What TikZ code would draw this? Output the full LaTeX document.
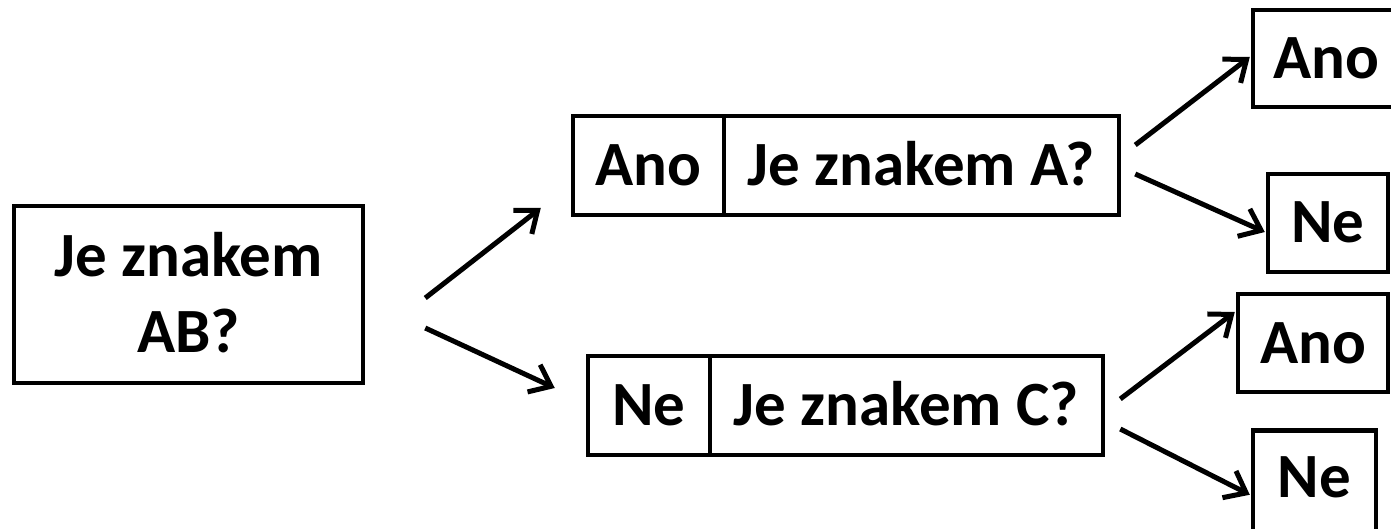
\documentclass[tikz,border=0pt]{standalone}
\usepackage{fontspec}
\setmainfont{Carlito}
\usetikzlibrary{arrows.meta}
\tikzset{
  box/.style={draw, line width=4.5pt, inner sep=0pt, text height=40pt, text depth=0pt,
    font=\fontsize{63}{76}\selectfont\bfseries, anchor=center},
  arr/.style={line width=5pt, -{Straight Barb[length=19pt,width=30pt,line width=5pt]}}
}
\begin{document}
\begin{tikzpicture}[x=1pt,y=-1pt]
\useasboundingbox (0,0) rectangle (1391,529);
% left box
\node[box, align=center, minimum width=349pt, minimum height=177pt, text height=116pt, text depth=0pt] (b1) at (188.5,294.5) {Je znakem\\AB?};
% middle boxes
\node[box, minimum width=151pt, minimum height=99pt] (b2L) at (648.5,165.5) {Ano};
\node[box, minimum width=395pt, minimum height=99pt] (b2R) at (921.5,165.5) {Je znakem A?};
\node[box, minimum width=122pt, minimum height=99pt] (b3L) at (649,405.5) {Ne};
\node[box, minimum width=393pt, minimum height=99pt] (b3R) at (906.5,405.5) {Je znakem C?};
% right boxes
\node[box, minimum width=147pt, minimum height=97pt] (r1) at (1326.5,58.5) {Ano};
\node[box, minimum width=120pt, minimum height=98pt] (r2) at (1328,223) {Ne};
\node[box, minimum width=150pt, minimum height=98pt] (r3) at (1313,343) {Ano};
\node[box, anchor=north, minimum width=123pt, inner ysep=27pt, text depth=15pt] (r4) at (1314.5,428) {Ne};
% arrow end points
\coordinate (a1s) at ([shift={(60,3.5)}]b1.east);
\coordinate (a1e) at ([shift={(-30,42.5)}]b2L.west);
\coordinate (a2s) at ([shift={(60,33.5)}]b1.east);
\coordinate (a2e) at ([shift={(-31,-17.5)}]b3L.west);
\coordinate (a3s) at ([shift={(14,-20.5)}]b2R.east);
\coordinate (a3e) at ([shift={(-1,-1.5)}]r1.west);
\coordinate (a4s) at ([shift={(14,8.5)}]b2R.east);
\coordinate (a4e) at ([shift={(-1,9)}]r2.west);
\coordinate (a5s) at ([shift={(15,-6.5)}]b3R.east);
\coordinate (a5e) at ([shift={(-1,-31)}]r3.west);
\coordinate (a6s) at ([shift={(15,23.5)}]b3R.east);
\coordinate (a6e) at ([shift={(-1,10)}]r4.west);
\draw[arr] (a1s) -- (a1e);
\draw[arr] (a2s) -- (a2e);
\draw[arr] (a3s) -- (a3e);
\draw[arr] (a4s) -- (a4e);
\draw[arr] (a5s) -- (a5e);
\draw[arr] (a6s) -- (a6e);
\end{tikzpicture}
\end{document}
